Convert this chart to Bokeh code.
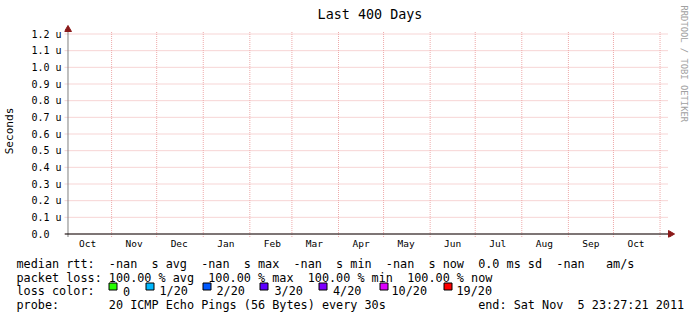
from datetime import datetime, timedelta
from bokeh.plotting import figure
from bokeh.layouts import column
from bokeh.models import FixedTicker, Range1d, Title
from bokeh.core.properties import value
from bokeh.embed import file_html
from bokeh.resources import INLINE

# ---------------- data ----------------
TITLE = "Last 400 Days"
Y_LABEL = "Seconds"
WATERMARK = "RRDTOOL / TOBI OETIKER"
END_TIME = datetime(2011, 11, 5, 23, 27, 21)
SPAN_DAYS = 400

month_names = ["Oct", "Nov", "Dec", "Jan", "Feb", "Mar", "Apr", "May", "Jun",
               "Jul", "Aug", "Sep", "Oct", "Nov"]
month_years = [2010, 2010, 2010, 2011, 2011, 2011, 2011, 2011, 2011,
               2011, 2011, 2011, 2011, 2011]
month_numbers = [10, 11, 12, 1, 2, 3, 4, 5, 6, 7, 8, 9, 10, 11]

# y axis in microseconds
y_ticks = [0.0, 0.1, 0.2, 0.3, 0.4, 0.5, 0.6, 0.7, 0.8, 0.9, 1.0, 1.1, 1.2]
y_tick_labels = ["0.0\u00a0\u00a0", "0.1 u", "0.2 u", "0.3 u", "0.4 u", "0.5 u", "0.6 u",
                 "0.7 u", "0.8 u", "0.9 u", "1.0 u", "1.1 u", "1.2 u"]
y_max = 1.2

legend_lines = [
    "median rtt:  -nan  s avg  -nan  s max  -nan  s min  -nan  s now  0.0 ms sd  -nan   am/s",
    "packet loss: 100.00 % avg  100.00 % max  100.00 % min  100.00 % now",
    "loss color:",
    "probe:       20 ICMP Echo Pings (56 Bytes) every 30s             end: Sat Nov  5 23:27:21 2011",
]
loss_levels = ["0", "1/20", "2/20", "3/20", "4/20", "10/20", "19/20"]
loss_colors = ["#26ff00", "#00b8ff", "#0059ff", "#5e00ff", "#7e00ff", "#dd00ff", "#ff0000"]

# ---------------- layout / style ----------------
W, H = 697, 315
TOP_H = 252                      # height of the chart part; legend part below
FRAME_L, FRAME_R, FRAME_T, FRAME_B = 63, 675, 24, 237
DATA_X0_PX, DATA_X1_PX = 65, 667   # canvas x of start / end time
ZERO_Y_PX, PX_PER_UNIT = 233.5, 200 / 1.2
GRID_X_END_PX, GRID_TOP_PX, GRID_BOTTOM_PX, AXIS_X_PX = 668, 31.5, 236.5, 66.5
MONO = "DejaVu Sans Mono"
GRID = "#eeaaaa"
ARROW = "#8b1a1a"
AXIS_GRAY = "#808080"
legend_baselines = [263, 277, 290.5, 304.5]
legend_x = 16
swatch_x = [108.5, 145.5, 202.5, 259.5, 318.5, 379.5, 443.5]
swatch_top, swatch_bottom, swatch_w = 282.5, 289.5, 8
loss_text_x = [122.5, 159, 216, 274, 332.5, 391, 456]


def to_ms(dt):
    return (dt - datetime(1970, 1, 1)).total_seconds() * 1000.0


t0, t1 = to_ms(END_TIME - timedelta(days=SPAN_DAYS)), to_ms(END_TIME)
ms_per_px = (t1 - t0) / (DATA_X1_PX - DATA_X0_PX)


def xd(px):   # canvas x -> data x
    return t0 + (px - DATA_X0_PX) * ms_per_px


def yd(py):   # canvas y -> data y
    return (ZERO_Y_PX - py) / PX_PER_UNIT


month_starts = [datetime(y, m, 1) for y, m in zip(month_years, month_numbers)]
month_start_ms = [to_ms(d) for d in month_starts if t0 <= to_ms(d) <= t1]
month_mid_ms = [to_ms(d + timedelta(days=15)) for d in month_starts]
label_ticks = [m for m in month_mid_ms if t0 <= m <= t1]
label_names = [n for n, m in zip(month_names, month_mid_ms) if t0 <= m <= t1]

p = figure(width=W, height=TOP_H, output_backend="svg", toolbar_location=None,
           min_border_left=FRAME_L, min_border_right=W - FRAME_R,
           min_border_top=FRAME_T, min_border_bottom=TOP_H - FRAME_B,
           x_range=Range1d(xd(FRAME_L), xd(FRAME_R)),
           y_range=Range1d(yd(FRAME_B), yd(FRAME_T)),
           frame_align=False)
p.outline_line_color = None
p.background_fill_color = "white"
p.border_fill_color = "white"
p.xgrid.visible = False
p.ygrid.visible = False

# title
p.title.text = TITLE
p.title.align = "center"
p.title.text_font = MONO
p.title.text_font_size = "13.4px"
p.title.text_font_style = "normal"
p.title.text_color = "black"
p.title.standoff = 5
p.title.offset = -2

# grid (dotted)
p.segment(x0=[xd(FRAME_L)] * len(y_ticks), x1=[xd(GRID_X_END_PX)] * len(y_ticks),
          y0=y_ticks, y1=y_ticks, line_color=GRID, line_dash="1 1", line_width=1)
p.segment(x0=month_start_ms, x1=month_start_ms,
          y0=[yd(GRID_BOTTOM_PX)] * len(month_start_ms), y1=[yd(GRID_TOP_PX)] * len(month_start_ms),
          line_color=GRID, line_dash="1 1", line_width=1)

# axis lines and arrows
p.segment(x0=[xd(AXIS_X_PX)], x1=[xd(AXIS_X_PX)], y0=[yd(GRID_BOTTOM_PX)], y1=[yd(GRID_TOP_PX)],
          line_color=AXIS_GRAY, line_width=1)
p.segment(x0=[xd(FRAME_L)], x1=[xd(GRID_X_END_PX)], y0=[0.0], y1=[0.0],
          line_color="black", line_width=1)
p.scatter(x=[xd(AXIS_X_PX)], y=[yd(29)], marker="triangle", size=7,
          fill_color=ARROW, line_color=ARROW)
p.scatter(x=[xd(670)], y=[0.0], marker="triangle", size=7, angle=-1.5708,
          fill_color=ARROW, line_color=ARROW)

# x axis: month names at mid-month
xa = p.xaxis[0]
xa.ticker = FixedTicker(ticks=label_ticks)
xa.major_label_overrides = {t: n for t, n in zip(label_ticks, label_names)}
xa.axis_line_color = None
xa.major_tick_line_color = None
xa.minor_tick_line_color = None
xa.major_tick_out = 0
xa.major_tick_in = 0
xa.major_label_standoff = 0
xa.major_label_text_font = MONO
xa.major_label_text_font_size = "9.5px"
xa.major_label_text_color = "black"

# y axis
ya = p.yaxis[0]
ya.ticker = FixedTicker(ticks=y_ticks)
ya.major_label_overrides = {t: l for t, l in zip(y_ticks, y_tick_labels)}
ya.axis_line_color = None
ya.major_tick_line_color = None
ya.minor_tick_line_color = None
ya.major_tick_out = 0
ya.major_tick_in = 0
ya.major_label_standoff = 3
ya.major_label_text_font = MONO
ya.major_label_text_font_size = "10px"
ya.major_label_text_color = "black"
ya.axis_label = Y_LABEL
ya.axis_label_text_font = MONO
ya.axis_label_text_font_size = "11.1px"
ya.axis_label_text_font_style = "normal"
ya.axis_label_text_color = "black"
ya.axis_label_standoff = 12

# watermark on the right side
p.add_layout(Title(text=WATERMARK, align="left", text_font=MONO, text_font_size="8.8px",
                   text_font_style="normal", text_color="#a0a0a0", standoff=7, offset=-19),
             "right")

# ---------------- legend part ----------------
q = figure(width=W, height=H - TOP_H, output_backend="svg", toolbar_location=None,
           x_range=Range1d(0, W), y_range=Range1d(H, TOP_H),
           x_axis_location=None, y_axis_location=None,
           min_border=0, min_border_left=0, min_border_right=0,
           min_border_top=0, min_border_bottom=0, frame_align=False)
q.outline_line_color = None
q.xgrid.visible = False
q.ygrid.visible = False
q.background_fill_color = "white"
q.border_fill_color = "white"

q.text(x=[legend_x] * len(legend_lines), y=legend_baselines,
       text=[s.replace(" ", "\u00a0") for s in legend_lines],
       text_font=value(MONO), text_font_size=value("11.8px"),
       text_baseline=value("alphabetic"), text_align=value("left"), text_color="black")
q.quad(left=swatch_x, right=[x + swatch_w for x in swatch_x],
       top=[swatch_top] * len(swatch_x), bottom=[swatch_bottom] * len(swatch_x),
       fill_color=loss_colors, line_color="black", line_width=1)
q.text(x=loss_text_x, y=[legend_baselines[2]] * len(loss_levels), text=loss_levels,
       text_font=value(MONO), text_font_size=value("11.8px"),
       text_baseline=value("alphabetic"), text_align=value("left"), text_color="black")

layout = column(p, q, spacing=0)
open("out.html", "w").write(file_html(layout, INLINE))
